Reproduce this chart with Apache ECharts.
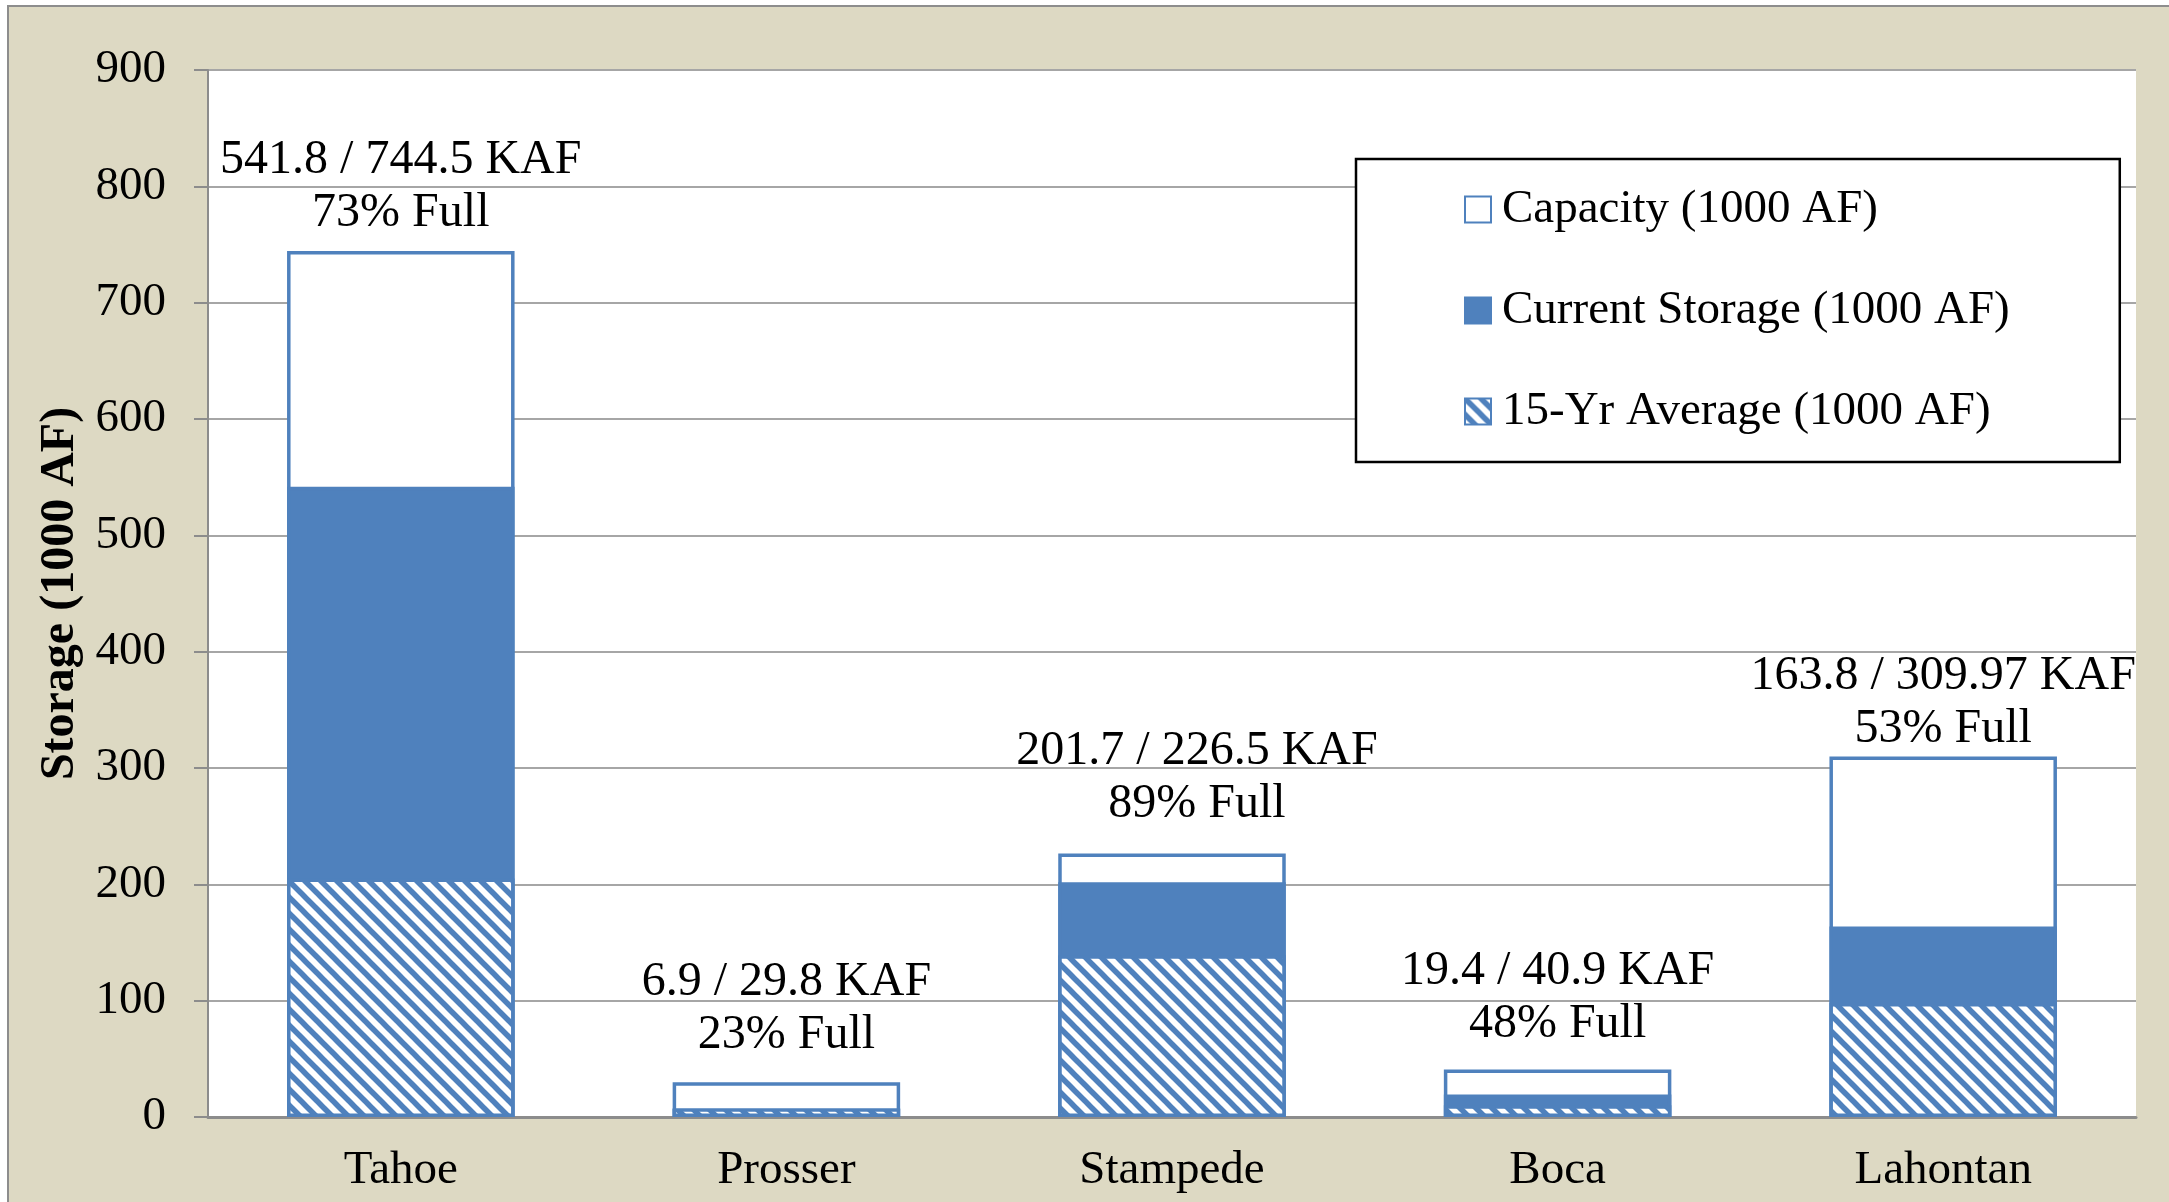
<!DOCTYPE html>
<html>
<head>
<meta charset="utf-8">
<script src="https://cdn.jsdelivr.net/npm/echarts@6/dist/echarts.min.js"></script>
<style>
  html, body { margin: 0; padding: 0; background: #fff; }
  #frame {
    position: absolute; left: 7px; top: 5px; width: 2200px; height: 1250px;
    border-left: 2px solid #8d8d8d; border-top: 2px solid #8d8d8d;
    background: #DDD9C3;
  }
  #chart { position: absolute; left: 0; top: 0; width: 2169px; height: 1202px; }
</style>
</head>
<body>
<div id="frame"></div>
<div id="chart"></div>
<script>
// reservoir data (1000 AF)
var reservoirs = ["Tahoe", "Prosser", "Stampede", "Boca", "Lahontan"];
var capacity = [744.5, 29.8, 226.5, 40.9, 309.97];
var current = [541.8, 6.9, 201.7, 19.4, 163.8];
var avg15 = [205, 7.5, 139, 10, 98];
var pctFull = [73, 23, 89, 48, 53];
var yTicks = [0, 100, 200, 300, 400, 500, 600, 700, 800, 900];

var BLUE = "#4F81BD";
var FONT = "'Liberation Serif', 'Times New Roman', serif";

// the text boxes in the original sit a little off the bar centres
var labelNudge = [[0, 7], [0, -2], [25, -5], [0, -1], [0, 17]];

// diagonal hatch for the 15-yr average
function hatch() {
  var c = document.createElement("canvas");
  c.width = 16;
  c.height = 16;
  var ctx = c.getContext("2d");
  ctx.fillStyle = "#fff";
  ctx.fillRect(0, 0, 16, 16);
  ctx.strokeStyle = BLUE;
  ctx.lineWidth = 5.5;
  [-16, 0, 16].forEach(function (o) {
    ctx.beginPath();
    ctx.moveTo(o - 4, -4);
    ctx.lineTo(o + 20, 20);
    ctx.stroke();
  });
  return c;
}

var chart = echarts.init(document.getElementById("chart"));

var capData = capacity.map(function (v, i) {
  return { value: v, label: { offset: labelNudge[i] } };
});

var option = {
  animation: false,
  backgroundColor: "transparent",
  textStyle: { fontFamily: FONT },
  grid: {
    show: true,
    backgroundColor: "#fff",
    borderWidth: 0,
    left: 208,
    right: 33,
    top: 70,
    bottom: 85
  },
  legend: {
    orient: "vertical",
    left: 1356,
    top: 159,
    padding: [27, 110, 27, 108],
    itemGap: 54,
    itemWidth: 26,
    itemHeight: 26,
    icon: "rect",
    backgroundColor: "#fff",
    borderColor: "#000",
    borderWidth: 2.5,
    textStyle: {
      fontFamily: FONT,
      fontSize: 47,
      lineHeight: 47,
      color: "#000",
      padding: [0, 0, 0, 6]
    },
    data: ["Capacity (1000 AF)", "Current Storage (1000 AF)", "15-Yr Average (1000 AF)"]
  },
  xAxis: {
    type: "category",
    data: reservoirs,
    axisLine: { lineStyle: { color: "#8c8c8c", width: 3 } },
    axisTick: { show: false },
    axisLabel: { fontFamily: FONT, fontSize: 47, color: "#000", margin: 30 }
  },
  yAxis: {
    type: "value",
    min: yTicks[0],
    max: yTicks[yTicks.length - 1],
    interval: 100,
    name: "Storage (1000 AF)",
    nameLocation: "middle",
    nameRotate: 90,
    nameGap: 118,
    nameTextStyle: { fontFamily: FONT, fontSize: 48, fontWeight: "bold", color: "#000" },
    axisLine: { show: true, lineStyle: { color: "#8c8c8c", width: 2 } },
    axisTick: { show: true, length: 14, lineStyle: { color: "#8c8c8c", width: 2 } },
    axisLabel: { fontFamily: FONT, fontSize: 47, color: "#000", margin: 42 },
    splitLine: { lineStyle: { color: "#a6a6a6", width: 2 } }
  },
  series: [
    {
      name: "Capacity (1000 AF)",
      type: "bar",
      barWidth: "59%",
      barGap: "-100%",
      data: capData,
      itemStyle: { color: "#fff", borderColor: BLUE, borderWidth: 3.5 },
      label: {
        show: true,
        position: "top",
        distance: 18,
        fontFamily: FONT,
        fontSize: 48,
        lineHeight: 53,
        color: "#000",
        formatter: function (p) {
          var i = p.dataIndex;
          return current[i] + " / " + capacity[i] + " KAF\n" + pctFull[i] + "% Full";
        }
      }
    },
    {
      name: "Current Storage (1000 AF)",
      type: "bar",
      barWidth: "59%",
      barGap: "-100%",
      data: current,
      itemStyle: { color: BLUE, borderColor: BLUE, borderWidth: 3.5 }
    },
    {
      name: "15-Yr Average (1000 AF)",
      type: "bar",
      barWidth: "59%",
      barGap: "-100%",
      data: avg15,
      itemStyle: {
        color: { image: hatch(), repeat: "repeat" },
        borderColor: BLUE,
        borderWidth: 3.5
      }
    }
  ]
};

chart.setOption(option);
</script>
</body>
</html>
